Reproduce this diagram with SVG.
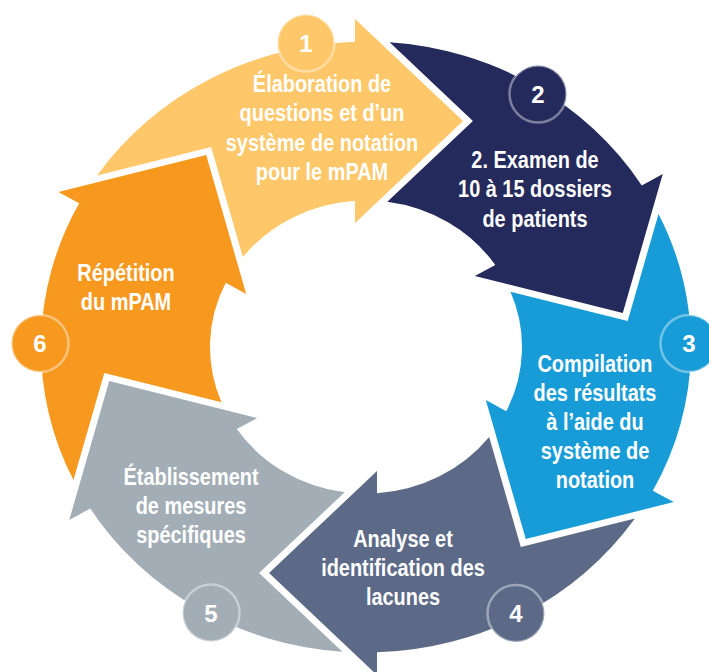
<svg xmlns="http://www.w3.org/2000/svg" xmlns:xlink="http://www.w3.org/1999/xlink" width="709" height="672" viewBox="0 0 709 672">
  <style>
    .lbl { font-family: 'Liberation Sans', Arial, sans-serif; font-weight: bold; font-size: 24px; fill: #ffffff; text-anchor: middle; }
    .num { font-family: 'Liberation Sans', Arial, sans-serif; font-weight: bold; font-size: 24px; fill: #ffffff; text-anchor: middle; }
    .badge { stroke: #ffffff; stroke-opacity: 0.4; stroke-width: 2.5; }
  </style>
  <defs>
    <!-- one curved arrow of the ring, centred on the origin, pointing clockwise at 12 o'clock;
         the tail notch receives the head of the previous arrow with a small white gap -->
    <path id="seg" d="M-268.9,-182.53 A325,325 0 0 1 -11,-324.81 L-11,-349 L97,-240.5 L-11,-132 L-11,-155.61 A156,156 0 0 0 -123.17,-95.75 L-154.82,-212.82 Z"/>
  </defs>
  <rect width="709" height="672" fill="#ffffff"/>

  <g id="step1">
    <use xlink:href="#seg" href="#seg" fill="#FDC76A" transform="translate(366 347) scale(1 0.94)"/>
    <circle class="badge" cx="306" cy="43" r="28.5" fill="#FDC76A"/>
    <text class="num" x="306" y="51.5">1</text>
    <g transform="translate(322 0) scale(0.83 1)">
      <text class="lbl" x="0" y="92">Élaboration de</text>
      <text class="lbl" x="0" y="121.5">questions et d’un</text>
      <text class="lbl" x="0" y="151">système de notation</text>
      <text class="lbl" x="0" y="180.5">pour le mPAM</text>
    </g>
  </g>

  <g id="step2">
    <use xlink:href="#seg" href="#seg" fill="#252A5C" transform="translate(366 347) scale(1 0.94) rotate(60)"/>
    <circle class="badge" cx="538" cy="94" r="28.5" fill="#252A5C"/>
    <text class="num" x="538" y="102.5">2</text>
    <g transform="translate(535 0) scale(0.83 1)">
      <text class="lbl" x="0" y="168">2. Examen de</text>
      <text class="lbl" x="0" y="197.5">10 à 15 dossiers</text>
      <text class="lbl" x="0" y="227">de patients</text>
    </g>
  </g>

  <g id="step3">
    <use xlink:href="#seg" href="#seg" fill="#189CD8" transform="translate(366 347) scale(1 0.94) rotate(120)"/>
    <circle class="badge" cx="689" cy="343.5" r="28.5" fill="#189CD8"/>
    <text class="num" x="689" y="352">3</text>
    <g transform="translate(595 0) scale(0.83 1)">
      <text class="lbl" x="0" y="372">Compilation</text>
      <text class="lbl" x="0" y="401">des résultats</text>
      <text class="lbl" x="0" y="430">à l’aide du</text>
      <text class="lbl" x="0" y="459">système de</text>
      <text class="lbl" x="0" y="488">notation</text>
    </g>
  </g>

  <g id="step4">
    <use xlink:href="#seg" href="#seg" fill="#5C6A87" transform="translate(366 347) scale(1 0.94) rotate(180)"/>
    <circle class="badge" cx="516" cy="613.5" r="28.5" fill="#5C6A87"/>
    <text class="num" x="516" y="622">4</text>
    <g transform="translate(403 0) scale(0.83 1)">
      <text class="lbl" x="0" y="547">Analyse et</text>
      <text class="lbl" x="0" y="576">identification des</text>
      <text class="lbl" x="0" y="605">lacunes</text>
    </g>
  </g>

  <g id="step5">
    <use xlink:href="#seg" href="#seg" fill="#A3ADB6" transform="translate(366 347) scale(1 0.94) rotate(240)"/>
    <circle class="badge" cx="211" cy="613" r="28.5" fill="#A3ADB6"/>
    <text class="num" x="211" y="621.5">5</text>
    <g transform="translate(191 0) scale(0.83 1)">
      <text class="lbl" x="0" y="485">Établissement</text>
      <text class="lbl" x="0" y="514">de mesures</text>
      <text class="lbl" x="0" y="543">spécifiques</text>
    </g>
  </g>

  <g id="step6">
    <use xlink:href="#seg" href="#seg" fill="#F7991F" transform="translate(366 347) scale(1 0.94) rotate(300)"/>
    <circle class="badge" cx="40" cy="343.5" r="28.5" fill="#F7991F"/>
    <text class="num" x="40" y="352">6</text>
    <g transform="translate(126 0) scale(0.83 1)">
      <text class="lbl" x="0" y="281">Répétition</text>
      <text class="lbl" x="0" y="310">du mPAM</text>
    </g>
  </g>
</svg>
